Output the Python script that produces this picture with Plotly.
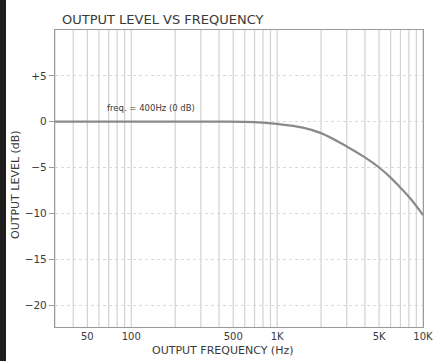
import numpy as np
import plotly.graph_objects as go

# Data
freq_hz = [30, 50, 100, 200, 400, 700, 1000, 1500, 2000, 3000, 4000, 5000, 6000, 7000, 8000, 9000, 10000]
level_db = [0.0, 0.0, 0.0, 0.0, 0.0, -0.05, -0.25, -0.65, -1.25, -2.7, -3.9, -5.0, -6.1, -7.2, -8.2, -9.2, -10.2]

x_tick_vals = [50, 100, 500, 1000, 5000, 10000]
x_tick_text = ["50", "100", "500", "1K", "5K", "10K"]
x_grid_vals = [30, 40, 50, 60, 70, 80, 90, 100, 200, 300, 400, 500, 600, 700, 800, 900,
               1000, 2000, 3000, 4000, 5000, 6000, 7000, 8000, 9000, 10000]
y_tick_vals = [5, 0, -5, -10, -15, -20]
y_tick_text = ["+5", "0", "\u22125", "\u221210", "\u221215", "\u221220"]

FONT = "DejaVu Sans"
TXT = "#3a3a3a"

fig = go.Figure()

# vertical grid lines drawn as a trace so every decade step appears
gx, gy = [], []
for v in x_grid_vals:
    gx += [v, v, None]
    gy += [-22.4, 10, None]
fig.add_trace(go.Scatter(x=gx, y=gy, mode="lines",
                         line=dict(color="#d2d2d2", width=1.2),
                         hoverinfo="skip", showlegend=False))

fig.add_trace(go.Scatter(x=freq_hz, y=level_db, mode="lines",
                         line=dict(color="#8a8a8a", width=2.2, shape="spline"),
                         showlegend=False))

fig.update_layout(
    width=436, height=361,
    margin=dict(l=55, r=13, t=30, b=34, autoexpand=False),
    paper_bgcolor="white", plot_bgcolor="white",
    font=dict(family=FONT, color=TXT, size=9),
    xaxis=dict(type="log", range=[np.log10(30), 4],
               tickvals=x_tick_vals, ticktext=x_tick_text,
               showgrid=False, zeroline=False, automargin=False,
               showline=True, linecolor="#9a9a9a", linewidth=1.2, mirror=True,
               ticks="", tickfont=dict(size=10, color=TXT, family=FONT)),
    yaxis=dict(range=[-22.4, 10],
               tickvals=y_tick_vals, ticktext=y_tick_text,
               showgrid=True, gridcolor="#dadada", griddash="dot", gridwidth=1,
               zeroline=False, automargin=False,
               showline=True, linecolor="#9a9a9a", linewidth=1.2, mirror=True,
               ticks="outside", ticklen=5, tickcolor="#9a9a9a",
               tickfont=dict(size=10.5, color=TXT, family=FONT)),
    annotations=[
        dict(text="OUTPUT LEVEL VS FREQUENCY", xref="paper", yref="paper",
             x=(60 - 55) / 368, y=(327 - 20) / 297, xanchor="left", yanchor="middle",
             showarrow=False, font=dict(size=13, color=TXT, family=FONT)),
        dict(text="freq. = 400Hz (0 dB)", xref="paper", yref="paper",
             x=(105 - 55) / 368, y=(327 - 108) / 297, xanchor="left", yanchor="middle",
             showarrow=False, font=dict(size=8.5, color=TXT, family=FONT)),
        dict(text="OUTPUT FREQUENCY (Hz)", xref="paper", yref="paper",
             x=(222 - 55) / 368, y=(327 - 350) / 297, xanchor="center", yanchor="middle",
             showarrow=False, font=dict(size=11, color=TXT, family=FONT)),
        dict(text="OUTPUT LEVEL (dB)", xref="paper", yref="paper",
             x=(15 - 55) / 368, y=(327 - 185) / 297, xanchor="center", yanchor="middle",
             textangle=-90, showarrow=False, font=dict(size=11, color=TXT, family=FONT)),
    ],
    shapes=[
        dict(type="rect", xref="paper", yref="paper",
             x0=-55 / 368, x1=(6 - 55) / 368, y0=(327 - 361) / 297, y1=327 / 297,
             fillcolor="#1e1e1e", line=dict(width=0), layer="above"),
    ],
)

fig.write_html("out.html", config={"displayModeBar": False},
               post_script="document.body.style.margin='0';")
